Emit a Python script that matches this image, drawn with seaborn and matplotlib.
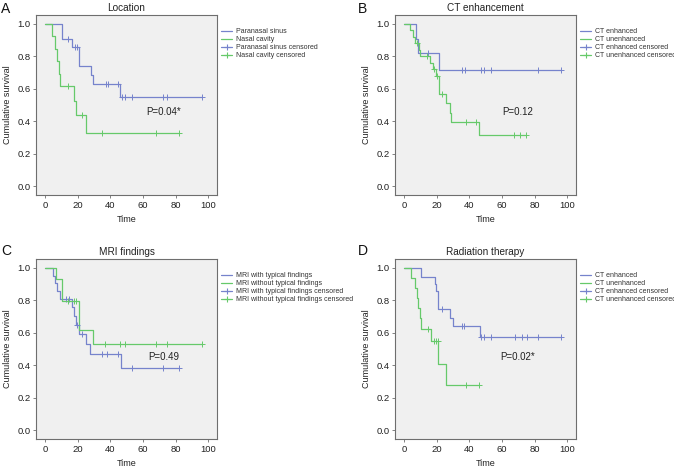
import numpy as np
import pandas as pd
import matplotlib
matplotlib.use("Agg")
import matplotlib.pyplot as plt
from matplotlib.lines import Line2D
import seaborn as sns

# ---------------- data ----------------
# Panel A: Location
a_sinus_t = [0, 10, 16.3, 21, 27.9, 29.2, 46]
a_sinus_s = [1.0, 0.905, 0.855, 0.741, 0.684, 0.627, 0.549]
a_sinus_end = 96
a_sinus_cens = [14.1, 18.2, 19.5, 37.2, 38.2, 44.8, 46.8, 49, 53, 72, 75, 96]

a_nasal_t = [0, 4.2, 6.2, 7.2, 8.2, 9, 17.4, 18.7, 24.8]
a_nasal_s = [1.0, 0.923, 0.846, 0.769, 0.692, 0.615, 0.527, 0.44, 0.33]
a_nasal_end = 82.2
a_nasal_cens = [14, 22.7, 35, 68, 82.2]

# Panel B: CT enhancement
b_enh_t = [0, 7.2, 8.5, 21.3]
b_enh_s = [1.0, 0.909, 0.818, 0.716]
b_enh_end = 96
b_enh_cens = [14.3, 35.3, 37, 47, 49.2, 53, 82.2, 96]

b_unenh_t = [0, 3.7, 5.3, 6.7, 8.8, 9.4, 16, 17.6, 19.2, 21.2, 25.5, 27.8, 28.8, 45.6]
b_unenh_s = [1.0, 0.96, 0.92, 0.88, 0.84, 0.80, 0.76, 0.72, 0.678, 0.567, 0.51, 0.453, 0.397, 0.317]
b_unenh_end = 74.5
b_unenh_cens = [8.1, 13.9, 18.4, 19.9, 23.2, 38, 44, 67.2, 71.3, 74.5]

# Panel C: MRI findings
c_typ_t = [0, 4.5, 5.8, 7.3, 8.8, 16.2, 17.4, 18.6, 20.8, 24.9, 27.7, 46.2]
c_typ_s = [1.0, 0.952, 0.905, 0.857, 0.81, 0.756, 0.702, 0.648, 0.589, 0.53, 0.471, 0.38]
c_typ_end = 82.2
c_typ_cens = [12.5, 14.3, 19.4, 22.3, 35, 38, 44.6, 53, 72, 82.2]

c_notyp_t = [0, 6.8, 10, 20.9, 29]
c_notyp_s = [1.0, 0.929, 0.795, 0.619, 0.531]
c_notyp_end = 96.1
c_notyp_cens = [13.7, 17.8, 18.8, 36.8, 46, 48.9, 67.9, 74.7, 96.1]

# Panel D: Radiation therapy
d_enh_t = [0, 10.4, 18.6, 19.4, 21, 28.2, 29.6, 46.5]
d_enh_s = [1.0, 0.945, 0.90, 0.855, 0.745, 0.688, 0.641, 0.573]
d_enh_end = 96.1
d_enh_cens = [23.4, 35.3, 36.9, 47.1, 49.2, 53, 67.9, 72, 75.1, 82.2, 96.1]

d_unenh_t = [0, 4.4, 6.5, 7.5, 8.5, 9.4, 10.4, 16.4, 21, 25.6]
d_unenh_s = [1.0, 0.9375, 0.875, 0.8125, 0.75, 0.6875, 0.625, 0.547, 0.41, 0.28]
d_unenh_end = 46
d_unenh_cens = [14.6, 18.4, 19.4, 20.4, 38, 46]

titles = ["Location", "CT enhancement", "MRI findings", "Radiation therapy"]
letters = ["A", "B", "C", "D"]
p_texts = ["P=0.04*", "P=0.12", "P=0.49", "P=0.02*"]
legend_labels = [
    ["Paranasal sinus", "Nasal cavity", "Paranasal sinus censored", "Nasal cavity censored"],
    ["CT enhanced", "CT unenhanced", "CT enhanced censored", "CT unenhanced censored"],
    ["MRI with typical findings", "MRI without typical findings",
     "MRI with typical findings censored", "MRI without typical findings censored"],
    ["CT enhanced", "CT unenhanced", "CT enhanced censored", "CT unenhanced censored"],
]
x_ticks = [0, 20, 40, 60, 80, 100]
y_ticks = [0.0, 0.2, 0.4, 0.6, 0.8, 1.0]

# ---------------- style ----------------
sns.set_theme(style="ticks")
plt.rcParams["font.family"] = ["Liberation Sans", "DejaVu Sans"]

BLUE = "#7683cc"
GREEN = "#66c96a"
SPINE = "#6e6e6e"

W, H = 674, 469
fig = plt.figure(figsize=(W / 100, H / 100), dpi=100)
fig.patch.set_facecolor("white")


def fx(px):
    return px / W


def fy(py):
    return 1 - py / H


# axes boxes in pixel coordinates (left, top, right, bottom)
boxes = [(36, 15, 217, 195), (395, 15, 576, 195), (36, 259, 217, 439), (395, 259, 576, 439)]
p_pos = [(62, 0.458), (60, 0.458), (63, 0.452), (59, 0.452)]
letter_pos = [(1, 2), (358, 2), (1, 244), (358, 244)]

panels = [
    ((a_sinus_t, a_sinus_s, a_sinus_end, a_sinus_cens), (a_nasal_t, a_nasal_s, a_nasal_end, a_nasal_cens)),
    ((b_enh_t, b_enh_s, b_enh_end, b_enh_cens), (b_unenh_t, b_unenh_s, b_unenh_end, b_unenh_cens)),
    ((c_typ_t, c_typ_s, c_typ_end, c_typ_cens), (c_notyp_t, c_notyp_s, c_notyp_end, c_notyp_cens)),
    ((d_enh_t, d_enh_s, d_enh_end, d_enh_cens), (d_unenh_t, d_unenh_s, d_unenh_end, d_unenh_cens)),
]


def step_frame(t, s, end):
    return pd.DataFrame({"time": list(t) + [end], "surv": list(s) + [s[-1]]})


def censor_frame(t, s, cens):
    idx = np.searchsorted(np.asarray(t), np.asarray(cens), side="right") - 1
    return pd.DataFrame({"time": cens, "surv": np.asarray(s)[idx]})


for i, ((g1, g2), box) in enumerate(zip(panels, boxes)):
    l, t_, r, b = box
    ax = fig.add_axes([fx(l), fy(b), fx(r - l), (b - t_) / H])
    ax.set_facecolor("#f0f0f0")
    for (tt, ss, end, cens), col in ((g1, BLUE), (g2, GREEN)):
        sns.lineplot(data=step_frame(tt, ss, end), x="time", y="surv", ax=ax,
                     color=col, lw=0.9, drawstyle="steps-post", estimator=None,
                     sort=False, legend=False)
        sns.scatterplot(data=censor_frame(tt, ss, cens), x="time", y="surv", ax=ax,
                        color=col, marker="+", s=14, linewidth=0.7, legend=False, zorder=3)
    ax.set_xlim(-5.7, 105.4)
    ax.set_ylim(-0.055, 1.054)
    ax.set_xticks(x_ticks)
    ax.set_yticks(y_ticks)
    ax.set_yticklabels([f"{v:.1f}" for v in y_ticks])
    ax.tick_params(axis="both", labelsize=6.8, length=2.5, width=0.6, color=SPINE,
                   pad=1.5, labelcolor="#222222")
    for sp in ax.spines.values():
        sp.set_color(SPINE)
        sp.set_linewidth(0.8)
        sp.set_visible(True)
    ax.set_xlabel("Time", fontsize=6.5, labelpad=4, color="#222222")
    ax.set_ylabel("Cumulative survival", fontsize=6.5, labelpad=4, color="#222222")
    ax.set_title(titles[i], fontsize=7.2, pad=3, color="#222222")
    ax.text(p_pos[i][0], p_pos[i][1], p_texts[i], fontsize=7, ha="left", va="center",
            color="#222222")
    handles = [
        Line2D([], [], color=BLUE, lw=0.9),
        Line2D([], [], color=GREEN, lw=0.9),
        Line2D([], [], color=BLUE, lw=0.9, marker="+", markersize=5, mew=0.8),
        Line2D([], [], color=GREEN, lw=0.9, marker="+", markersize=5, mew=0.8),
    ]
    leg = ax.legend(handles, legend_labels[i], loc="upper left",
                    bbox_to_anchor=(fx(r + 4), fy(t_ + 13)), bbox_transform=fig.transFigure,
                    frameon=False, fontsize=5, handlelength=1.6, handletextpad=0.5,
                    labelspacing=0.15, borderpad=0, borderaxespad=0)
    for txt in leg.get_texts():
        txt.set_color("#333333")
    fig.text(fx(letter_pos[i][0]), fy(letter_pos[i][1]), letters[i], fontsize=10,
             ha="left", va="top", color="#111111")

fig.savefig("out.png", dpi=100)
